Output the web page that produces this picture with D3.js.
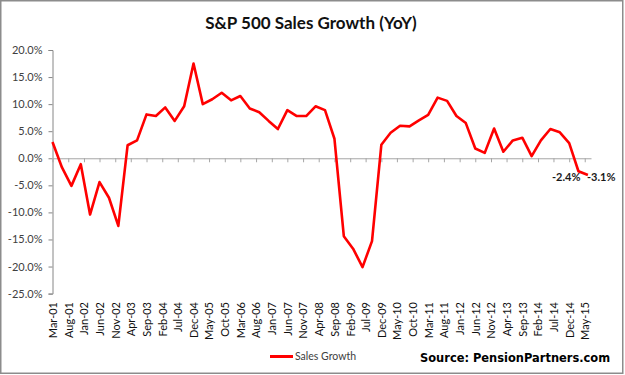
<!DOCTYPE html>
<html>
<head>
<meta charset="utf-8">
<script src="https://cdn.jsdelivr.net/npm/d3@7"></script>
<style>
  html, body { margin: 0; padding: 0; background: #fff; }
  svg { display: block; }
</style>
</head>
<body>
<svg id="chart" width="625" height="375"></svg>
<script>
// S&P 500 sales growth, quarterly, Mar-01 .. Jun-15 (in %)
var salesGrowth = [
    3.0, -1.7, -5.1, -1.1, -10.4, -4.4, -7.3, -12.5,
    2.4, 3.3, 8.1, 7.8, 9.4, 6.9, 9.6, 17.5,
    10.0, 10.9, 12.1, 10.7, 11.5, 9.2, 8.5, 6.9,
    5.4, 8.9, 7.8, 7.8, 9.6, 8.9, 3.6, -14.4,
    -16.7, -20.1, -15.3, 2.5, 4.7, 6.0, 5.9, 7.0,
    8.0, 11.2, 10.6, 7.8, 6.5, 1.8, 1.0, 5.5,
    1.2, 3.3, 3.8, 0.4, 3.3, 5.4, 4.8, 2.8,
    -2.4, -3.1
];

var xTickLabels = [
    "Mar-01", "Aug-01", "Jan-02", "Jun-02", "Nov-02", "Apr-03", "Sep-03",
    "Feb-04", "Jul-04", "Dec-04", "May-05", "Oct-05", "Mar-06", "Aug-06",
    "Jan-07", "Jun-07", "Nov-07", "Apr-08", "Sep-08", "Feb-09", "Jul-09",
    "Dec-09", "May-10", "Oct-10", "Mar-11", "Aug-11", "Jan-12", "Jun-12",
    "Nov-12", "Apr-13", "Sep-13", "Feb-14", "Jul-14", "Dec-14", "May-15"
];

var yTicks = [20, 15, 10, 5, 0, -5, -10, -15, -20, -25];

// labelled points (last two quarters)
var labelIndex = [56, 57];

var parseMonth = d3.timeParse("%b-%y");
var quarters = d3.timeMonth.range(new Date(2001, 2, 1), new Date(2015, 6, 1), 3);
var series = quarters.map(function (d, i) { return { date: d, value: salesGrowth[i] }; });

var svg = d3.select("#chart");
var font = "Lato, 'Open Sans', sans-serif";

// chart frame
svg.append("rect")
    .attr("x", 0.75).attr("y", 0.75)
    .attr("width", 622).attr("height", 372.5)
    .attr("fill", "#fff")
    .attr("stroke", "#8c8c8c")
    .attr("stroke-width", 1.5);

var x = d3.scaleTime()
    .domain([new Date(2001, 2, 1), new Date(2015, 6, 1)])
    .range([52.5, 591]);

var y = d3.scaleLinear()
    .domain([-25, 20])
    .range([293.6, 50]);

// y axis
var yAxis = svg.append("g")
    .attr("transform", "translate(52.5,0)")
    .call(d3.axisLeft(y)
        .tickValues(yTicks)
        .tickSize(4)
        .tickPadding(6)
        .tickFormat(function (d) { return d.toFixed(1) + "%"; }));
yAxis.select(".domain").attr("stroke", "#868686");
yAxis.selectAll(".tick line").attr("stroke", "#868686");
yAxis.selectAll("text")
    .attr("fill", "#404040")
    .style("font-family", font)
    .style("font-size", "11px");

// zero line with ticks
var tickDates = xTickLabels.map(parseMonth);
var xAxis = svg.append("g")
    .attr("transform", "translate(0," + y(0) + ")")
    .call(d3.axisBottom(x)
        .tickValues(tickDates)
        .tickSize(4)
        .tickSizeOuter(0)
        .tickFormat(""));
xAxis.select(".domain").attr("stroke", "#a6a6a6");
xAxis.selectAll(".tick line").attr("stroke", "#a6a6a6");

// x labels at the bottom, rotated
var xLabels = svg.append("g")
    .attr("transform", "translate(0,300)")
    .call(d3.axisBottom(x)
        .tickValues(tickDates)
        .tickSize(0)
        .tickFormat(d3.timeFormat("%b-%y")));
xLabels.select(".domain").remove();
xLabels.selectAll("text")
    .attr("transform", "rotate(-90)")
    .attr("x", -2)
    .attr("y", 0)
    .attr("dy", "0.35em")
    .attr("text-anchor", "end")
    .attr("fill", "#111")
    .style("font-family", font)
    .style("font-size", "11px");

// line
var line = d3.line()
    .x(function (d) { return x(d.date); })
    .y(function (d) { return y(d.value); });

svg.append("path")
    .datum(series)
    .attr("d", line)
    .attr("fill", "none")
    .attr("stroke", "#ff0000")
    .attr("stroke-width", 2.6)
    .attr("stroke-linejoin", "round");

// data labels
svg.selectAll(".dlabel")
    .data(labelIndex)
    .enter().append("text")
    .attr("class", "dlabel")
    .attr("x", function (d, i) { return x(series[d].date) + (i == 0 ? 2 : -1); })
    .attr("y", function (d, i) { return y(series[d].value) + (i == 0 ? 10 : 6); })
    .attr("text-anchor", function (d, i) { return i == 0 ? "end" : "start"; })
    .attr("fill", "#1a1a1a")
    .style("font-family", font)
    .style("font-weight", "bold")
    .style("font-size", "11px")
    .text(function (d) { return series[d].value.toFixed(1) + "%"; });

// title
svg.append("text")
    .attr("x", 311)
    .attr("y", 29)
    .attr("text-anchor", "middle")
    .attr("fill", "#111")
    .style("font-family", font)
    .style("font-weight", "bold")
    .style("font-size", "17px")
    .text("S&P 500 Sales Growth (YoY)");

// legend
svg.append("line")
    .attr("x1", 270).attr("x2", 293)
    .attr("y1", 356.5).attr("y2", 356.5)
    .attr("stroke", "#ff0000")
    .attr("stroke-width", 3);
svg.append("text")
    .attr("x", 295)
    .attr("y", 360)
    .attr("fill", "#404040")
    .style("font-family", font)
    .style("font-size", "10.5px")
    .text("Sales Growth");

// source
svg.append("text")
    .attr("x", 420)
    .attr("y", 362)
    .attr("fill", "#000")
    .style("font-family", "'DejaVu Sans', Verdana, sans-serif")
    .style("font-weight", "bold")
    .style("font-size", "11.45px")
    .text("Source: PensionPartners.com");
</script>
</body>
</html>
